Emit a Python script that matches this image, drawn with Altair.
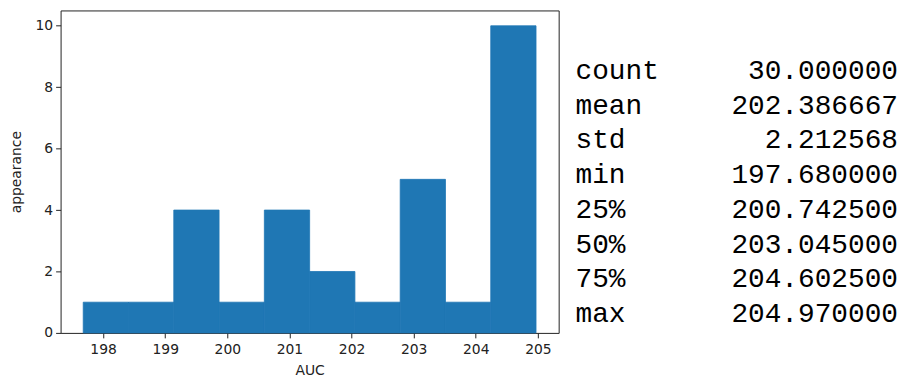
import altair as alt
import pandas as pd

# Histogram data (matplotlib-style 10 bins)
bin_start = [197.680, 198.409, 199.138, 199.867, 200.596, 201.325, 202.054, 202.783, 203.512, 204.241]
bin_end = [198.409, 199.138, 199.867, 200.596, 201.325, 202.054, 202.783, 203.512, 204.241, 204.970]
counts = [1, 1, 4, 1, 4, 2, 1, 5, 1, 10]
x_ticks = [198, 199, 200, 201, 202, 203, 204, 205]
y_ticks = [0, 2, 4, 6, 8, 10]

# describe() table
stat_names = ["count", "mean", "std", "min", "25%", "50%", "75%", "max"]
stat_values = ["30.000000", "202.386667", "2.212568", "197.680000",
               "200.742500", "203.045000", "204.602500", "204.970000"]

hist_df = pd.DataFrame({"start": bin_start, "end": bin_end, "count": counts})
stats_df = pd.DataFrame({"name": stat_names, "value": stat_values})

axis_common = dict(
    grid=False, domain=False, tickSize=5, tickColor="#222", labelColor="#222",
    labelFont="DejaVu Sans", labelFontSize=14,
    titleFont="DejaVu Sans", titleFontSize=14, titleFontWeight="normal", titleColor="#222",
)

hist = alt.Chart(hist_df).mark_bar(color="#1f77b4", stroke="#1f77b4", strokeWidth=0.8).encode(
    x=alt.X("start:Q",
            scale=alt.Scale(domain=[197.3155, 205.3345], nice=False, zero=False),
            axis=alt.Axis(values=x_ticks, format="d", title="AUC", labelPadding=5, titlePadding=7,
                          **axis_common)),
    x2="end:Q",
    y=alt.Y("count:Q",
            scale=alt.Scale(domain=[0, 10.5], nice=False),
            axis=alt.Axis(values=y_ticks, format="d", title="appearance", labelPadding=3, titlePadding=12,
                          **axis_common)),
    y2=alt.datum(0),
).properties(width=502, height=325, view=alt.ViewBackground(stroke="#222", strokeWidth=1))

mono = "Courier New, Courier, Liberation Mono, monospace"
base = alt.Chart(stats_df).encode(
    y=alt.Y("name:N", sort=stat_names,
            scale=alt.Scale(type="point", range=[69, 314], padding=0), axis=None)
)
names = base.mark_text(align="left", baseline="alphabetic", font=mono, fontSize=28, color="black").encode(
    x=alt.value(0), text="name:N")
vals = base.mark_text(align="right", baseline="alphabetic", font=mono, fontSize=28, color="black").encode(
    x=alt.value(325), text="value:N")
stats = alt.layer(names, vals).properties(width=325, height=325, view=alt.ViewBackground(strokeWidth=0))

chart = alt.hconcat(hist, stats, spacing=16).properties(
    padding={"left": 0, "top": 0, "right": 0, "bottom": 0}
)

chart.save("out.html", embed_options={"renderer": "svg", "actions": False})
